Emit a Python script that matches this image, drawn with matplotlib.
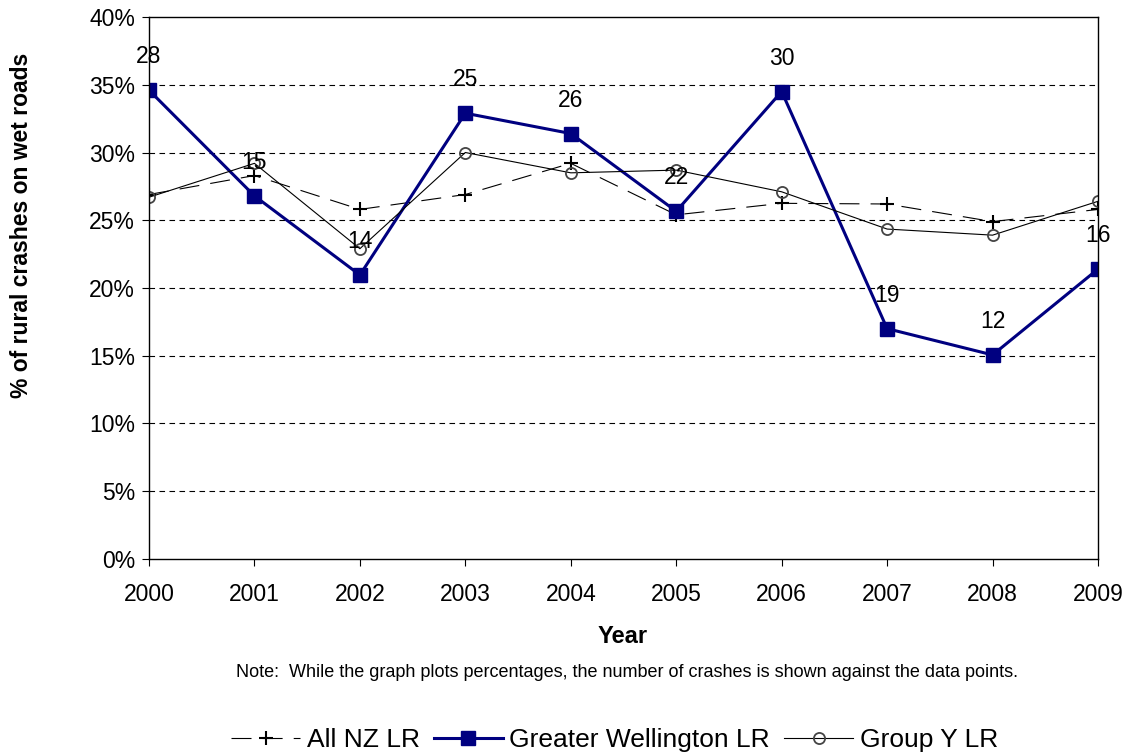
import matplotlib
matplotlib.use("Agg")
import matplotlib.pyplot as plt
from matplotlib.ticker import FuncFormatter

plt.rcParams['font.family'] = ['Liberation Sans', 'DejaVu Sans']

# datos
years = [2000, 2001, 2002, 2003, 2004, 2005, 2006, 2007, 2008, 2009]
all_nz = [26.9, 28.3, 25.8, 26.9, 29.2, 25.4, 26.25, 26.2, 24.9, 25.8]
wellington = [34.6, 26.8, 20.96, 32.9, 31.4, 25.66, 34.5, 17.0, 15.06, 21.4]
group_y = [26.7, 29.2, 22.9, 30.0, 28.5, 28.7, 27.1, 24.35, 23.9, 26.4]
crash_counts = [28, 15, 14, 25, 26, 22, 30, 19, 12, 16]

fig = plt.figure(figsize=(11.32, 7.56), dpi=100)
ax = fig.add_axes([0.1316, 0.2606, 0.8384, 0.7169])

ax.plot(years, all_nz, color='black', lw=0.8, dashes=(18, 10),
        marker='+', ms=10, mew=1.5, label='All NZ LR')
ax.plot(years, wellington, color='#000080', lw=2.2,
        marker='s', ms=9.5, label='Greater Wellington LR')
ax.plot(years, group_y, color='black', lw=0.8,
        marker='o', ms=8, mfc='none', mec='#444444', mew=1.3, label='Group Y LR')

# numero de choques sobre cada punto
for x, y, n in zip(years, wellington, crash_counts):
    ax.annotate(str(n), (x, y), xytext=(0, 24), textcoords='offset points',
                ha='center', va='center', fontsize=16.5)

ax.set_xlim(2000, 2009)
ax.set_ylim(0, 40)
ax.set_xticks(years)
ax.set_yticks(range(0, 41, 5))
ax.yaxis.set_major_formatter(FuncFormatter(lambda v, p: '%d%%' % v))
ax.tick_params(labelsize=16.5, length=5, direction='out')
ax.tick_params(axis='x', pad=12)
ax.tick_params(axis='y', pad=5)

for g in range(5, 40, 5):
    ax.axhline(g, color='black', lw=0.8, dashes=(5, 4), zorder=0)

for s in ax.spines.values():
    s.set_linewidth(1.0)

ax.set_xlabel('Year', fontsize=17, fontweight='bold')
ax.xaxis.set_label_coords(0.499, -0.121)
ax.set_ylabel('% of rural crashes on wet roads', fontsize=16.5, fontweight='bold')
ax.yaxis.set_label_coords(-0.122, 0.616)

fig.text(0.554, 0.111, 'Note:  While the graph plots percentages, the number of crashes is shown against the data points.',
         ha='center', va='center', fontsize=13)

fig.legend(loc='center', bbox_to_anchor=(0.543, 0.021), ncol=3, frameon=False,
           fontsize=19, handlelength=2.6, handletextpad=0.25, columnspacing=0.55)

fig.savefig('out.png', dpi=100)
